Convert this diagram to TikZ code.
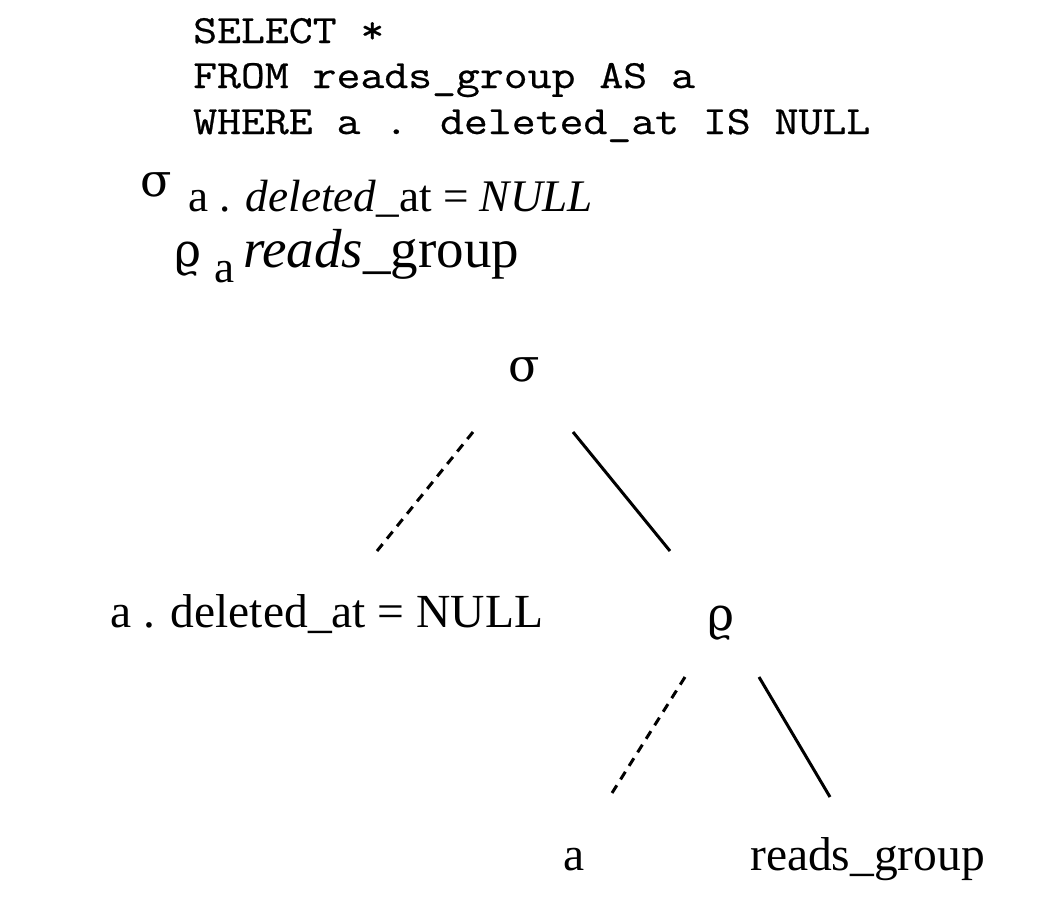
\documentclass[tikz,border=0pt]{standalone}
\usepackage{fontspec}
\setmainfont{Liberation Serif}
\newfontfamily\sqlfont[FakeStretch=1.16,FakeBold=0.6]{Latin Modern Mono}
\newfontfamily\grk{DejaVu Serif}
\begin{document}
\begin{tikzpicture}[x=1pt,y=-1pt,
  txt/.style={inner sep=0pt,anchor=base west,font=\fontsize{47.5}{50}\selectfont},
  greek/.style={inner sep=0pt,anchor=base west,font=\grk\fontsize{46}{48}\selectfont},
  sub/.style={inner sep=0pt,anchor=base west,font=\fontsize{45.2}{48}\selectfont},
  big/.style={inner sep=0pt,anchor=base west,font=\fontsize{55}{58}\selectfont},
  sql/.style={inner sep=0pt,anchor=base west,font=\sqlfont\fontsize{40}{44}\selectfont},
  edge/.style={line width=3pt},
  dedge/.style={line width=3pt,dash pattern=on 9pt off 7pt}]
\useasboundingbox (0,0) rectangle (1056,916);
% SQL
\node[sql] (q1) at (193,43) {SELECT *};
\node[sql] (q2) at (193,88) {FROM reads\_group AS a};
\node[sql] (q3) at (193,134) {WHERE a . deleted\_at IS NULL};
% formula
\node[greek] (fs) at (140,196) {σ};
\node[sub] (fsub) at (188,211) {a . \textit{deleted}\_at = \textit{NULL}};
\node[greek] (fr) at (174,266) {ϱ};
\node[sub] (fra) at (214,282) {a};
\node[big] (frn) at (243,267) {\textit{reads}\_group};
% tree
\node[greek,anchor=base] (sigma) at (524,381) {σ};
\node[txt] (cond) at (110,627) {a . deleted\_at = NULL};
\node[greek,anchor=base] (rho) at (721,630) {ϱ};
\node[txt] (la) at (563,870) {a};
\node[txt] (lr) at (750,870) {reads\_group};
\coordinate (e1a) at (473,432);
\coordinate (e1b) at (377,551);
\coordinate (e2a) at (573,432);
\coordinate (e2b) at (670,551);
\coordinate (e3a) at (685,677);
\coordinate (e3b) at (612,793);
\coordinate (e4a) at (759,677);
\coordinate (e4b) at (830,797);
\draw[dedge] (e1a) -- (e1b);
\draw[edge] (e2a) -- (e2b);
\draw[dedge] (e3a) -- (e3b);
\draw[edge] (e4a) -- (e4b);
\end{tikzpicture}
\end{document}
